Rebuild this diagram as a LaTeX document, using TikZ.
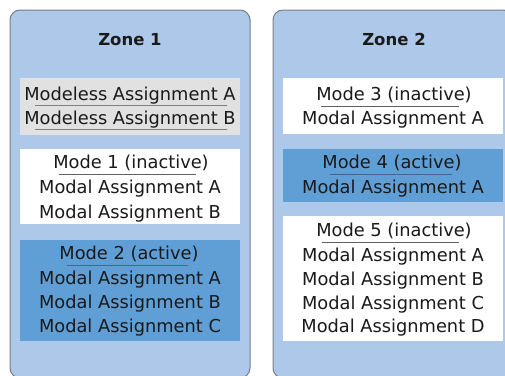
\documentclass[tikz,border=0pt]{standalone}
\usepackage{fontspec}
\setmainfont{DejaVu Sans}
\definecolor{zonefill}{HTML}{ADC8E8}
\definecolor{zoneborder}{HTML}{767E8C}
\definecolor{graybox}{HTML}{E1E1E1}
\definecolor{activebox}{HTML}{5F9FD6}
\definecolor{txtcol}{HTML}{1A1A1A}
\definecolor{ulwhite}{HTML}{606060}
\definecolor{ulgray}{HTML}{808080}
\definecolor{ulblue}{HTML}{46678A}
\begin{document}
\begin{tikzpicture}[x=1pt,y=-1pt,
  zone/.style={draw=zoneborder, fill=zonefill, line width=1pt, rounded corners=10pt},
  txt/.style={font=\fontsize{17.8}{20}\selectfont, anchor=base, inner sep=0pt, text=txtcol},
  ttl/.style={font=\fontsize{16.5}{19}\selectfont\bfseries, anchor=base, inner sep=0pt, text=txtcol},
  ul/.style={line width=1pt}]
\useasboundingbox (0,0) rectangle (505,375);
\begin{scope}
  \clip (0,0) rectangle (505,375);
  \draw[zone] (10,10) rectangle (250,378);
  \draw[zone] (273,10) rectangle (513,378);
\end{scope}
% boxes
\fill[graybox] (20,78) rectangle (240,135);
\fill[white] (20,149) rectangle (240,224);
\fill[activebox] (20,240) rectangle (240,341);
\fill[white] (283,78) rectangle (503,134);
\fill[activebox] (283,149) rectangle (503,202);
\fill[white] (283,216) rectangle (503,341);
% titles
\node[ttl] (z1) at (130,45) {Zone 1};
\node[ttl] (z2) at (394,45) {Zone 2};
% zone 1
\node[txt] (ml1) at (130,100) {Modeless Assignment A};
\node[txt] (ml2) at (130,124.5) {Modeless Assignment B};
\draw[ul, ulgray] (35,105) -- (227,105);
\draw[ul, ulgray] (35,129.5) -- (227,129.5);
\node[txt] (m1) at (131,168.5) {Mode 1 (inactive)};
\draw[ul, ulwhite] (59,174.5) -- (196,174.5);
\node[txt] (m1a) at (130,193.5) {Modal Assignment A};
\node[txt] (m1b) at (130,218) {Modal Assignment B};
\node[txt] (m2) at (129,259) {Mode 2 (active)};
\draw[ul, ulblue] (67,265.5) -- (188,265.5);
\node[txt] (m2a) at (130,284) {Modal Assignment A};
\node[txt] (m2b) at (130,308) {Modal Assignment B};
\node[txt] (m2c) at (130,332) {Modal Assignment C};
% zone 2
\node[txt] (m3) at (394,100) {Mode 3 (inactive)};
\draw[ul, ulwhite] (321,106) -- (459,106);
\node[txt] (m3a) at (393,124.5) {Modal Assignment A};
\node[txt] (m4) at (392,168) {Mode 4 (active)};
\draw[ul, ulblue] (330,174) -- (452,174);
\node[txt] (m4a) at (393,193.5) {Modal Assignment A};
\node[txt] (m5) at (394,236) {Mode 5 (inactive)};
\draw[ul, ulwhite] (322,242) -- (459,242);
\node[txt] (m5a) at (393,261.5) {Modal Assignment A};
\node[txt] (m5b) at (393,285) {Modal Assignment B};
\node[txt] (m5c) at (393,309) {Modal Assignment C};
\node[txt] (m5d) at (393,332.5) {Modal Assignment D};
\end{tikzpicture}
\end{document}
